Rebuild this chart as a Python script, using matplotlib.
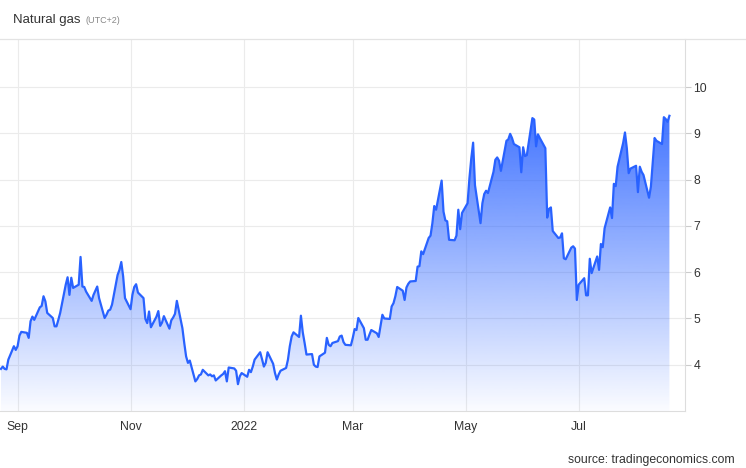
import numpy as np
import pandas as pd
import matplotlib
matplotlib.use("Agg")
import matplotlib.pyplot as plt
import matplotlib.dates as mdates

plt.rcParams['font.family'] = ['Liberation Sans', 'DejaVu Sans']

# daily close (Aug 2021 - Aug 2022)
price = [3.91, 3.96, 3.91, 3.9, 4.11, 4.4, 4.32, 4.4, 4.63, 4.71,
         4.69, 4.58, 4.94, 5.04, 4.97, 5.24, 5.27, 5.48, 5.37, 5.12,
         5.01, 4.83, 4.83, 4.97, 5.12, 5.73, 5.89, 5.51, 5.88, 5.66,
         5.73, 6.33, 5.69, 5.68, 5.58, 5.38, 5.51, 5.6, 5.69, 5.44,
         5.01, 5.08, 5.17, 5.19,
         5.3, 5.94, 6.05, 6.22, 5.91, 5.44, 5.2, 5.51, 5.68, 5.74,
         5.56, 5.44, 4.99, 4.9, 5.15, 4.81, 5.04, 5.16, 4.84, 4.91,
         5.05, 4.78, 4.96, 5.02, 5.1, 5.38, 4.79, 4.47, 4.18, 4.04,
         4.09, 3.64, 3.69, 3.77, 3.79, 3.89, 3.77, 3.79, 3.75, 3.77,
         3.66, 3.77, 3.8, 3.86, 3.64, 3.94, 3.92,
         3.87, 3.58, 3.75, 3.82, 3.74, 3.89, 3.84, 3.96, 4.11, 4.27,
         4.12, 3.96, 4.04, 4.27, 4.02, 3.82, 3.68, 3.79, 3.87, 3.93,
         4.11, 4.4, 4.61, 4.7, 4.6, 5.06, 4.7, 4.47, 4.22, 4.23,
         4.0, 3.96, 3.95, 4.18, 4.26, 4.58, 4.43, 4.4, 4.47, 4.51,
         4.61, 4.63, 4.49, 4.43, 4.42,
         4.58, 4.77, 4.75, 5.01, 4.79, 4.54, 4.54, 4.65, 4.75, 4.68,
         4.6, 4.84, 5.08, 5.0, 4.99, 5.26, 5.33, 5.48, 5.68, 5.6,
         5.4, 5.67, 5.75, 5.8, 5.81, 6.12, 6.13, 6.45, 6.39, 6.74,
         6.79, 7.06, 7.43, 7.35, 7.98, 7.31, 7.12, 7.1, 6.7, 6.69,
         6.79, 7.35, 6.93, 7.28, 7.49,
         8.03, 8.46, 8.8, 7.88, 7.06, 7.49, 7.69, 7.76, 7.71, 8.17,
         8.43, 8.48, 8.41, 8.19, 8.84, 8.87, 8.99, 8.9, 8.77, 8.7,
         8.16, 8.7, 8.51, 8.53, 9.33, 9.3, 8.72, 8.98, 8.9, 8.68,
         7.18, 7.37, 7.4, 6.89, 6.74, 6.75, 6.84, 6.3, 6.28, 6.53,
         6.56, 6.51, 5.4, 5.73,
         5.87, 5.5, 5.5, 6.29, 5.98, 6.34, 6.05, 6.61, 6.54, 6.95,
         7.4, 7.17, 7.91, 7.86, 8.28, 8.79, 9.02, 8.68, 8.14, 8.24,
         8.3, 7.73, 8.28, 8.17, 8.1, 7.61, 7.85, 8.36, 8.9, 8.84,
         8.77, 9.35, 9.31, 9.25, 9.38]
dates = pd.bdate_range(end="2022-08-19", periods=len(price))

yticks = [4, 5, 6, 7, 8, 9, 10]
month_ticks = ["2021-09-01", "2021-11-01", "2022-01-01", "2022-03-01", "2022-05-01", "2022-07-01"]
month_labels = ["Sep", "Nov", "2022", "Mar", "May", "Jul"]

blue = "#2962ff"

fig = plt.figure(figsize=(7.46, 4.68), dpi=100)
ax = fig.add_axes([0, 1 - 411 / 468, 685 / 746, 372 / 468])

x = mdates.date2num(dates)
y = np.array(price)
ybot = 3.0

# gradient fill under the line
poly = ax.fill_between(x, y, ybot, facecolor="none", edgecolor="none")
img = np.zeros((256, 1, 4))
img[..., :3] = matplotlib.colors.to_rgb(blue)
img[:, 0, 3] = np.linspace(0.02, 0.88, 256)
im = ax.imshow(img, extent=[x[0], x[-1], ybot, y.max()], aspect="auto",
               origin="lower", zorder=1)
im.set_clip_path(poly.get_paths()[0], ax.transData)

ax.plot(x, y, color=blue, lw=1.6, zorder=3, solid_joinstyle="round")

ax.set_xlim(mdates.date2num(pd.Timestamp("2021-08-22 12:00")),
            mdates.date2num(pd.Timestamp("2022-08-27 10:00")))
ax.set_ylim(ybot, 11.04)

ax.set_xticks(mdates.date2num(pd.to_datetime(month_ticks)))
ax.set_xticklabels(month_labels)
ax.set_yticks(yticks)
ax.yaxis.tick_right()
ax.grid(True, color="#ebebeb", lw=0.8, zorder=0)
ax.set_axisbelow(True)

ax.tick_params(axis="x", length=0, pad=7, labelsize=8.8, labelcolor="#333333")
ax.tick_params(axis="y", length=4, width=0.8, color="#cccccc", pad=2,
               labelsize=8.8, labelcolor="#333333")

for s in ["left", "top"]:
    ax.spines[s].set_visible(False)
ax.spines["right"].set_color("#dddddd")
ax.spines["bottom"].set_color("#dddddd")
ax.spines["right"].set_linewidth(0.8)
ax.spines["bottom"].set_linewidth(0.8)

# header separator line
fig.add_artist(plt.Line2D([0, 1], [1 - 39 / 468] * 2, color="#e3e3e3", lw=0.9))

fig.text(13 / 746, 1 - 20 / 468, "Natural gas", fontsize=9.5, color="#333333", va="center")
fig.text(86 / 746, 1 - 20.5 / 468, "(UTC+2)", fontsize=6.5, color="#888888", va="center")
fig.text(735 / 746, 1 - 460 / 468, "source: tradingeconomics.com", fontsize=8.8,
         color="#333333", ha="right", va="center")

fig.savefig("out.png", dpi=100)
